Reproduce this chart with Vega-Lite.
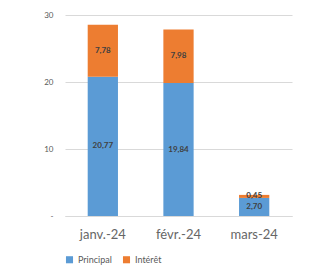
{
  "$schema": "https://vega.github.io/schema/vega-lite/v6.json",
  "width": 227,
  "height": 201,
  "autosize": {"type": "none"},
  "padding": {"left": 65, "top": 15, "right": 17, "bottom": 58},
  "background": "white",
  "data": {
    "values": [
      {"month": "janv.-24", "type": "Principal", "ord": 0, "value": 20.77},
      {"month": "janv.-24", "type": "Intérêt", "ord": 1, "value": 7.78},
      {"month": "févr.-24", "type": "Principal", "ord": 0, "value": 19.84},
      {"month": "févr.-24", "type": "Intérêt", "ord": 1, "value": 7.98},
      {"month": "mars-24", "type": "Principal", "ord": 0, "value": 2.70},
      {"month": "mars-24", "type": "Intérêt", "ord": 1, "value": 0.45}
    ]
  },
  "transform": [
    {"stack": "value", "groupby": ["month"], "sort": [{"field": "ord"}], "as": ["y0", "y1"]},
    {"calculate": "(datum.y0 + datum.y1) / 2", "as": "ymid"}
  ],
  "encoding": {
    "x": {
      "field": "month", "type": "nominal", "sort": null,
      "scale": {"paddingInner": 0.6, "paddingOuter": 0.3},
      "axis": {"title": null, "labelAngle": 0, "labelFontSize": 13, "labelFontWeight": "normal", "labelColor": "#666666", "ticks": false, "domainColor": "#d9d9d9", "labelPadding": 12}
    }
  },
  "layer": [
    {
      "mark": {"type": "bar"},
      "encoding": {
        "y": {
          "field": "y1", "type": "quantitative",
          "scale": {"domain": [0, 30]},
          "axis": {"title": null, "values": [0, 10, 20, 30], "labelExpr": "datum.value == 0 ? '-' : datum.label", "labelFontSize": 8, "labelColor": "#595959", "ticks": false, "domain": false, "gridColor": "#d9d9d9", "labelPadding": 12}
        },
        "y2": {"field": "y0"},
        "color": {
          "field": "type", "type": "nominal",
          "scale": {"domain": ["Principal", "Intérêt"], "range": ["#5B9BD5", "#ED7D31"]},
          "legend": {"title": null, "orient": "bottom", "direction": "horizontal", "symbolType": "square", "symbolSize": 50, "symbolStrokeWidth": 0, "labelFontSize": 9, "labelColor": "#595959", "offset": 14, "columnPadding": 10}
        }
      }
    },
    {
      "mark": {"type": "text", "fontSize": 8, "fontWeight": "bold", "color": "#404040"},
      "encoding": {
        "y": {"field": "ymid", "type": "quantitative"},
        "text": {"field": "value", "type": "quantitative", "format": ".2f"}
      }
    }
  ],
  "config": {
    "font": "Lato",
    "view": {"stroke": null},
    "locale": {"number": {"decimal": ",", "thousands": " ", "grouping": [3], "currency": ["", " €"]}}
  }
}
